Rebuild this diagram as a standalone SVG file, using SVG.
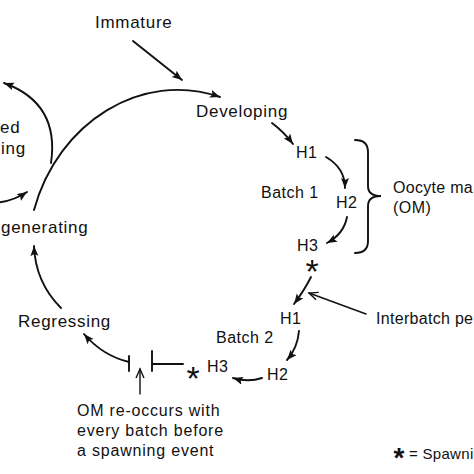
<svg xmlns="http://www.w3.org/2000/svg" width="474" height="474" viewBox="0 0 474 474">
<style>
  .lbl { font-family: "Liberation Sans", Arial, sans-serif; font-size: 17px; letter-spacing: 0.7px; fill: #111; }
  .sm { font-family: "Liberation Sans", Arial, sans-serif; font-size: 16px; letter-spacing: 0.5px; fill: #111; }
  .note { font-family: "Liberation Sans", Arial, sans-serif; font-size: 16px; letter-spacing: 0.8px; fill: #111; }
  .ast { font-family: "Liberation Sans", Arial, sans-serif; font-size: 34px; fill: #111; text-anchor: middle; }
  .ln { fill: none; stroke: #111; stroke-width: 1.9; stroke-linecap: round; }
  .thin { fill: none; stroke: #111; stroke-width: 1.4; stroke-linecap: round; }
</style>
<defs>
  <marker id="ah" markerUnits="userSpaceOnUse" markerWidth="12" markerHeight="10" refX="10" refY="4" orient="auto">
    <path d="M0,0 L10,4 L0,8 L2,4 z" fill="#111"/>
  </marker>
  <marker id="oa" markerUnits="userSpaceOnUse" markerWidth="12" markerHeight="12" refX="10" refY="5" orient="auto">
    <path d="M1,1 L10,5 L1,9" fill="none" stroke="#111" stroke-width="1.4" stroke-linejoin="miter"/>
  </marker>
</defs>
<rect width="474" height="474" fill="#fff"/>

<g id="connectors">
  <path class="ln" d="M133,41 L182,80" marker-end="url(#ah)"/>
  <path class="ln" d="M34,210 C58,122 142,70 220,97" marker-end="url(#ah)"/>
  <path class="ln" d="M51,163 C57,122 40,96 4,83" marker-end="url(#ah)"/>
  <path class="ln" d="M-6,203 C8,202 18,198 27,192" marker-end="url(#ah)"/>
  <path class="ln" d="M272,123 C280,129 287,136 293,144" marker-end="url(#ah)"/>
  <path class="ln" d="M326,157 C338,164 345,174 345,188" marker-end="url(#ah)"/>
  <path class="ln" d="M347,217 C345,228 338,237 327,243" marker-end="url(#ah)"/>
  <path class="ln" d="M355,140 Q368,140 368,152 L368,186 Q368,196 381,196 Q368,196 368,206 L368,241 Q368,253 355,253"/>
  <path class="ln" d="M311,277 C306,287 300,296 294,304" marker-end="url(#ah)"/>
  <path class="thin" d="M366,314 L309,293" marker-end="url(#oa)"/>
  <path class="ln" d="M299,331 C298,343 294,352 287,360" marker-end="url(#ah)"/>
  <path class="ln" d="M262,378 C253,381 243,381 233,378" marker-end="url(#ah)"/>
  <path class="ln" d="M183,364 L152,364 M152,351 L152,371 M129,356 L129,371"/>
  <path class="ln" d="M129,362 C112,358 97,349 84,334" marker-end="url(#ah)"/>
  <path class="thin" d="M140,394 L140,369" marker-end="url(#oa)"/>
  <path class="ln" d="M61,308 C45,292 35,272 34,246" marker-end="url(#ah)"/>
</g>

<g id="immature"><text class="lbl" x="95" y="28">Immature</text></g>
<g id="developing"><text class="lbl" x="196" y="117">Developing</text></g>
<g id="skipped-spawning">
  <text class="lbl" x="0" y="133">ed</text>
  <text class="lbl" x="1" y="154">ing</text>
</g>
<g id="regenerating"><text class="lbl" x="1" y="233">generating</text></g>
<g id="regressing"><text class="lbl" x="18" y="327">Regressing</text></g>

<g id="batch1">
  <text class="sm" x="261" y="198">Batch 1</text>
  <text class="sm" x="296" y="158">H1</text>
  <text class="sm" x="336" y="208">H2</text>
  <text class="sm" x="297" y="251">H3</text>
  <text class="ast" x="312" y="283">*</text>
</g>
<g id="om-label">
  <text class="sm" x="393" y="193" style="letter-spacing:0.3px">Oocyte ma</text>
  <text class="sm" x="393" y="213">(OM)</text>
</g>
<g id="batch2">
  <text class="sm" x="216" y="343">Batch 2</text>
  <text class="sm" x="280" y="324">H1</text>
  <text class="sm" x="267" y="380">H2</text>
  <text class="sm" x="207" y="372">H3</text>
  <text class="ast" x="193" y="390">*</text>
</g>
<g id="interbatch"><text class="sm" x="376" y="324" style="letter-spacing:0.3px">Interbatch pe</text></g>
<g id="om-note">
  <text class="note" x="77" y="416">OM re-occurs with</text>
  <text class="note" x="77" y="436">every batch before</text>
  <text class="note" x="77" y="456">a spawning event</text>
</g>
<g id="legend">
  <text class="ast" x="399" y="467" font-weight="bold" style="font-size:28px">*</text>
  <text class="sm" x="409" y="459" style="font-size:15px;letter-spacing:0.3px">= Spawni</text>
</g>
</svg>
